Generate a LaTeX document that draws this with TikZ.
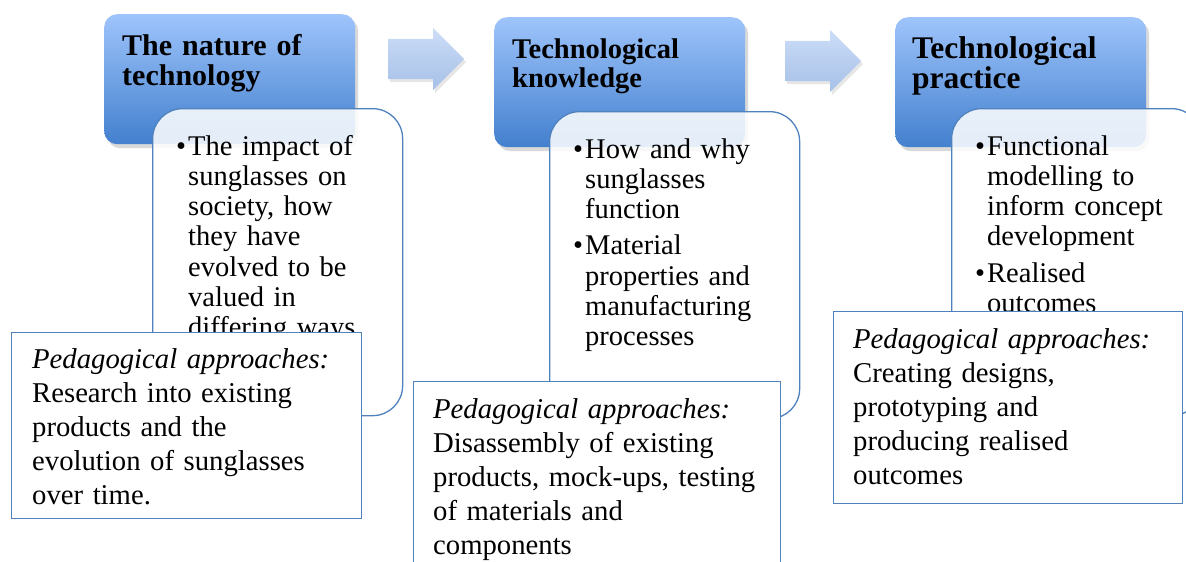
\documentclass[tikz,border=0pt]{standalone}
\usepackage{fontspec}
\setmainfont{Liberation Serif}
\usetikzlibrary{shapes.arrows}
\usetikzlibrary{shadows}
\definecolor{headtop}{HTML}{9EC4FB}
\definecolor{headbot}{HTML}{4380CE}
\definecolor{rim}{HTML}{4F81BD}
\definecolor{arrowtop}{HTML}{CCDDF7}
\definecolor{arrowbot}{HTML}{A6C0E8}
\tikzset{
	headbox/.style = {
		rectangle,
		rounded corners=13pt,
		anchor=north west,
		inner sep=0pt,
		minimum width=251pt,
		minimum height=130pt,
		top color=headtop,
		bottom color=headbot,
		drop shadow={shadow xshift=3pt, shadow yshift=-4pt, opacity=0.3}
	},
	headtext/.style = {
		anchor=base west,
		inner sep=0pt,
		align=left,
		text width=240pt,
		font=\fontsize{30}{30}\selectfont\bfseries
	},
	listbox/.style = {
		rectangle,
		rounded corners=30pt,
		anchor=north west,
		inner sep=0pt,
		minimum width=250pt,
		minimum height=307pt,
		draw=rim,
		line width=1.3pt,
		fill=white,
		fill opacity=0.86
	},
	listtext/.style = {
		anchor=base west,
		inner sep=0pt,
		align=left,
		text width=240pt,
		font=\fontsize{28.5}{30.3}\selectfont
	},
	pedbox/.style = {
		rectangle,
		anchor=north west,
		inner sep=0pt,
		draw=rim,
		line width=1.3pt,
		fill=white
	},
	pedtext/.style = {
		anchor=base west,
		inner sep=0pt,
		align=left,
		text width=340pt,
		font=\fontsize{28.7}{34}\selectfont
	},
	steparrow/.style = {
		single arrow,
		anchor=tail,
		single arrow head extend=11pt,
		single arrow head indent=0pt,
		minimum height=76pt,
		minimum width=62pt,
		inner xsep=0pt,
		inner ysep=20pt,
		top color=arrowtop,
		bottom color=arrowbot,
		drop shadow={shadow xshift=2pt, shadow yshift=-3pt, opacity=0.2}
	},
}
\newcommand{\bul}{\leavevmode\llap{\textbullet\kern2pt}}

\begin{document}
\begin{tikzpicture}[x=1pt, y=-1pt]
\useasboundingbox (0,0) rectangle (1186,562);
\clip (0,0) rectangle (1186,562);
% arrows between the stages
\node [steparrow] (arr1) at (388,59) {};
\node [steparrow] (arr2) at (785,61) {};
% stage headings
\node [headbox] (head1) at (104,14) {};
\node [headbox] (head2) at (494,17) {};
\node [headbox] (head3) at (895,17) {};
\node [headtext] (htext1) at (122,55) {The nature of\\technology};
\node [headtext, font=\fontsize{28.5}{29}\selectfont\bfseries] (htext2) at (512,58) {Technological\\knowledge};
\node [headtext, font=\fontsize{31.5}{30}\selectfont\bfseries] (htext3) at (912,58) {Technological\\practice};
% bullet boxes
\node [listbox] (list1) at (152,108) {};
\node [listbox] (list2) at (549,111) {};
\node [listbox] (list3) at (951,108) {};
\node [listtext] (ltext1) at (188,155) {\bul The impact of\\sunglasses on\\society, how\\they have\\evolved to be\\valued in\\differing ways};
\node [listtext] (ltext2) at (585,158) {\bul How and why\\sunglasses\\function\\[6pt]\bul Material\\properties and\\manufacturing\\processes};
\node [listtext] (ltext3) at (987,155) {\bul Functional\\modelling to\\inform concept\\development\\[6pt]\bul Realised\\outcomes};
% pedagogical approaches
\node [pedbox, minimum width=350pt, minimum height=186pt] (ped1) at (11,332) {};
\node [pedbox, minimum width=367pt, minimum height=200pt] (ped2) at (413,381) {};
\node [pedbox, minimum width=349pt, minimum height=192pt] (ped3) at (833,311) {};
\node [pedtext] (ptext1) at (32,368) {\textit{Pedagogical approaches:}\\Research into existing\\products and the\\evolution of sunglasses\\over time.};
\node [pedtext] (ptext2) at (433,418) {\textit{Pedagogical approaches:}\\Disassembly of existing\\products, mock-ups, testing\\of materials and\\components};
\node [pedtext] (ptext3) at (853,348) {\textit{Pedagogical approaches:}\\Creating designs,\\prototyping and\\producing realised\\outcomes};
\end{tikzpicture}
\end{document}
